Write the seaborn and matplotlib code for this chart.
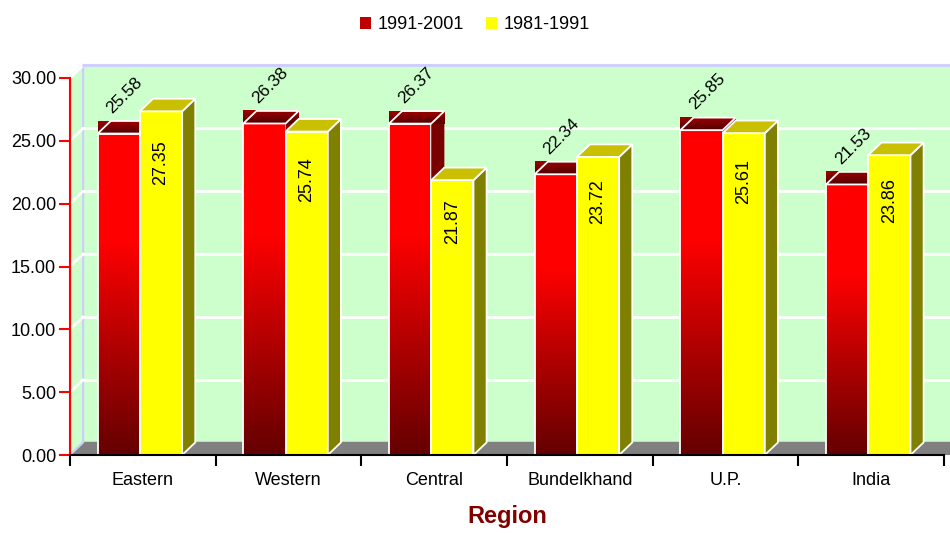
import numpy as np
import pandas as pd
import matplotlib
matplotlib.use("Agg")
import matplotlib.pyplot as plt
from matplotlib.patches import Polygon, Rectangle, Patch
from matplotlib.colors import LinearSegmentedColormap
import seaborn as sns

regions = ["Eastern", "Western", "Central", "Bundelkhand", "U.P.", "India"]
periods = ["1991-2001", "1981-1991"]
rate_9101 = [25.58, 26.38, 26.37, 22.34, 25.85, 21.53]
rate_8191 = [27.35, 25.74, 21.87, 23.72, 25.61, 23.86]

sns.set_style("white")
plt.rcParams["font.family"] = ["Liberation Sans", "DejaVu Sans"]
plt.rcParams["text.color"] = "black"
plt.rcParams["axes.labelcolor"] = "black"
plt.rcParams["xtick.color"] = "black"
plt.rcParams["ytick.color"] = "black"

df = pd.DataFrame({
    "Region": regions * 2,
    "Rate": rate_9101 + rate_8191,
    "Period": [periods[0]] * 6 + [periods[1]] * 6,
})

fig = plt.figure(figsize=(9.5, 5.35), dpi=100)
ax = fig.add_axes([70 / 950, 80 / 535, 874 / 950, 377 / 535])

sns.barplot(data=df, x="Region", y="Rate", hue="Period", order=regions,
            hue_order=periods, palette=["#ff0000", "#ffff00"], width=0.58,
            saturation=1, edgecolor="white", linewidth=1.3, legend=False, ax=ax)

ax.set_xlim(-0.5, 5.5)
ax.set_ylim(0, 30)
ax.set_facecolor("none")

# pseudo-3D depth in data units
dx, dy = 0.09, 1.0
wall = "#ccffcc"
edge = "#ccccff"

# back wall, left wall, floor
ax.add_patch(Rectangle((-0.5 + dx, dy), 6, 30, facecolor=wall, edgecolor=edge,
                       lw=1.5, zorder=0, clip_on=False))
ax.add_patch(Polygon([(-0.5, 0), (-0.5 + dx, dy), (-0.5 + dx, 30 + dy), (-0.5, 30)],
                     facecolor=wall, edgecolor=edge, lw=1.5, zorder=0, clip_on=False))
ax.add_patch(Polygon([(-0.5, 0), (5.5 + dx, 0), (5.5 + dx, dy), (-0.5 + dx, dy)],
                     facecolor="#808080", edgecolor="none", zorder=0.2, clip_on=False))
ax.plot([-0.5, -0.5 + dx], [0, dy], color=edge, lw=1.5, zorder=0.3)
for v in range(5, 31, 5):
    ax.plot([-0.5 + dx, 5.5 + dx], [v + dy, v + dy], color="white", lw=2,
            zorder=0.1, clip_on=False)
    ax.plot([-0.5, -0.5 + dx], [v, v + dy], color="white", lw=2, zorder=0.1, clip_on=False)
ax.plot([-0.5 + dx, 5.5 + dx], [30 + dy, 30 + dy], color=edge, lw=2, zorder=0.1,
        clip_on=False)

red_cmap = LinearSegmentedColormap.from_list("r", ["#640000", "#b00000", "#ff0000", "#ff0000"])
top_cmap = LinearSegmentedColormap.from_list("t", ["#500000", "#a00000"])

red_bars = ax.containers[0]
yel_bars = ax.containers[1]
for i in range(len(regions)):
    for kind, bar in (("red", red_bars[i]), ("yel", yel_bars[i])):
        x0 = bar.get_x() - 0.02
        bar.set_x(x0)
        w = bar.get_width()
        x1 = x0 + w
        h = bar.get_height()
        if kind == "red":
            grad = np.linspace(0, 1, 256).reshape(-1, 1)
            im = ax.imshow(grad, cmap=red_cmap, origin="lower", aspect="auto",
                           extent=[x0, x1, 0, h], zorder=1)
            im.set_clip_path(bar)
            bar.set_facecolor("none")
            bar.set_zorder(1.1)
            ax.add_patch(Polygon([(x1, 0), (x1 + dx, dy), (x1 + dx, h + dy), (x1, h)],
                                 facecolor="#7a0000", edgecolor="none", zorder=1.1))
            ax.imshow(np.linspace(0, 1, 64).reshape(-1, 1), cmap=top_cmap,
                      origin="lower", aspect="auto",
                      extent=[x0, x1 + dx, h, h + dy], zorder=1.2)
            ax.add_patch(Polygon([(x0, h), (x1, h), (x1 + dx, h + dy), (x0 + dx, h + dy)],
                                 closed=True, facecolor="none", edgecolor="white",
                                 lw=1.3, zorder=1.3))
            ax.text(x0 + w / 2 - 0.03, h + dy + 0.4, f"{h:.2f}", rotation=45,
                    rotation_mode="anchor", ha="left", va="bottom", fontsize=12.5,
                    color="black", zorder=5)
        else:
            bar.set_zorder(2)
            ax.add_patch(Polygon([(x1, 0), (x1 + dx, dy), (x1 + dx, h + dy), (x1, h)],
                                 facecolor="#808000", edgecolor="white", lw=1.3, zorder=2))
            ax.add_patch(Polygon([(x0, h), (x1, h), (x1 + dx, h + dy), (x0 + dx, h + dy)],
                                 facecolor="#c8c000", edgecolor="white", lw=1.3, zorder=2))
            ax.text(x0 + w / 2, h * 0.85, f"{h:.2f}", rotation=90, ha="center",
                    va="center", fontsize=13, color="black", zorder=5)

# axes styling
for s in ("top", "right"):
    ax.spines[s].set_visible(False)
ax.spines["left"].set_color("red")
ax.spines["left"].set_linewidth(1.5)
ax.spines["bottom"].set_color("black")
ax.spines["bottom"].set_linewidth(1.5)
for sp in ax.spines.values():
    sp.set_zorder(3)

ax.set_yticks(range(0, 31, 5))
ax.set_yticklabels([f"{v:.2f}" for v in range(0, 31, 5)])
ax.tick_params(axis="y", colors="red", labelcolor="black", length=8, width=1.5,
               left=True, labelsize=13, pad=2)
ax.set_xticks(range(len(regions)))
ax.set_xticks(np.arange(-0.5, 6, 1), minor=True)
ax.tick_params(axis="x", which="major", length=0, labelsize=13, pad=12,
               labelcolor="black")
ax.tick_params(axis="x", which="minor", length=8, width=1.5, color="black", bottom=True)
ax.set_xlabel("Region", fontsize=17, fontweight="bold", color="#800000", labelpad=12)
ax.set_ylabel("")
ax.grid(False)

handles = [Patch(facecolor="#c00000", edgecolor="none"),
           Patch(facecolor="#ffff00", edgecolor="none")]
fig.legend(handles, periods, loc="upper center", bbox_to_anchor=(0.5, 1.0), ncol=2,
           frameon=False, fontsize=13, handlelength=0.6, handleheight=0.6,
           handletextpad=0.4, columnspacing=1.2, labelcolor="black")

fig.savefig("out.png", dpi=100)
